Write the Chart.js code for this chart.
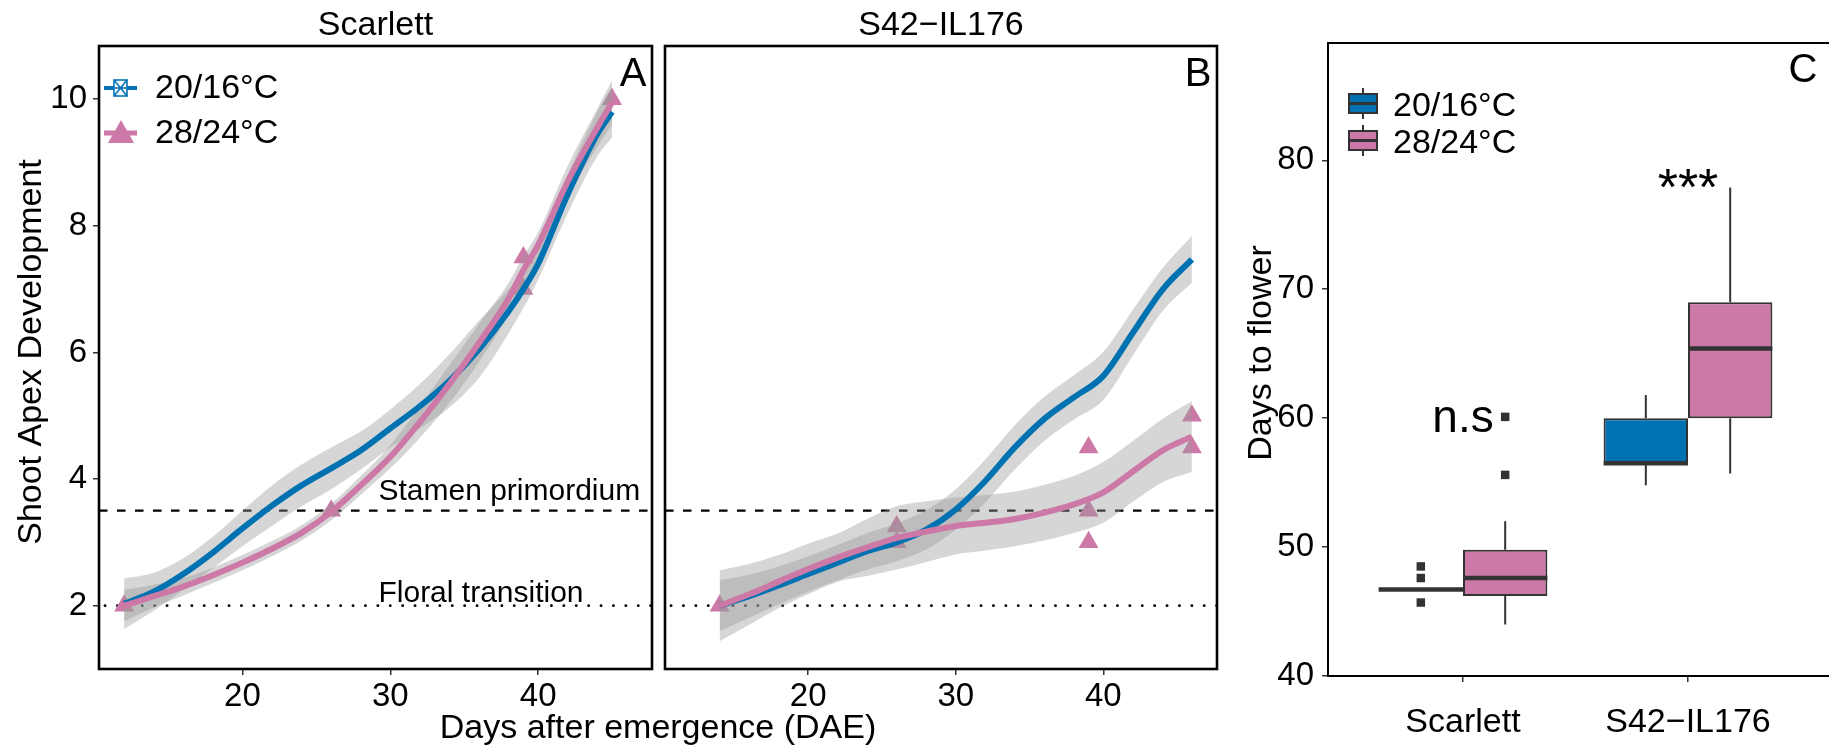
<!DOCTYPE html>
<html>
<head>
<meta charset="utf-8">
<script src="https://cdn.jsdelivr.net/npm/chart.js@4.4.1/dist/chart.umd.min.js"></script>
<style>
html,body{margin:0;padding:0;background:#fff;overflow:hidden;}
#wrap{position:relative;width:1829px;height:747px;background:#fff;}
canvas{position:absolute;left:0;top:0;}
</style>
</head>
<body>
<div id="wrap">
<canvas id="cA" width="1829" height="747"></canvas>
<canvas id="cB" width="1829" height="747"></canvas>
<canvas id="cC" width="1829" height="747"></canvas>
</div>
<script>
// ---------------- DATA ----------------
const groups = ['20/16°C', '28/24°C'];
const facetNames = ['Scarlett', 'S42−IL176'];
const dayTickVals = [20, 30, 40];
const devTickVals = [2, 4, 6, 8, 10];
const stageLines = [2, 3.5];
const stageLabels = ['Floral transition', 'Stamen primordium'];

// Panel A: Scarlett (smoothed fits with confidence ribbons)
const scarlettDays     = [12, 14, 16, 18, 20, 22, 24, 26, 28, 30, 32, 34, 36, 38, 39, 40, 42, 44, 45];
const scarlettCoolFit  = [2.03, 2.22, 2.50, 2.84, 3.22, 3.58, 3.90, 4.17, 4.45, 4.80, 5.15, 5.55, 6.05, 6.65, 7.00, 7.40, 8.50, 9.45, 9.80];
const scarlettCoolLo   = [1.63, 1.92, 2.25, 2.59, 2.94, 3.26, 3.57, 3.84, 4.15, 4.50, 4.80, 5.13, 5.60, 6.30, 6.70, 7.15, 8.20, 9.10, 9.40];
const scarlettCoolHi   = [2.43, 2.52, 2.75, 3.09, 3.50, 3.90, 4.23, 4.50, 4.75, 5.10, 5.50, 5.97, 6.50, 7.00, 7.30, 7.65, 8.80, 9.80, 10.20];
const scarlettWarmFit  = [2.00, 2.15, 2.30, 2.48, 2.68, 2.90, 3.15, 3.48, 3.90, 4.35, 4.90, 5.50, 6.15, 6.85, 7.30, 7.70, 8.70, 9.55, 9.95];
const scarlettWarmLo   = [1.75, 1.97, 2.16, 2.36, 2.56, 2.78, 3.03, 3.35, 3.75, 4.17, 4.65, 5.20, 5.85, 6.60, 7.08, 7.50, 8.45, 9.25, 9.60];
const scarlettWarmHi   = [2.25, 2.33, 2.44, 2.60, 2.80, 3.02, 3.27, 3.61, 4.05, 4.53, 5.15, 5.80, 6.45, 7.10, 7.52, 7.90, 8.95, 9.85, 10.30];
const scarlettWarmPtDays  = [12, 26, 39, 39, 45];
const scarlettWarmPtStage = [2, 3.5, 7.5, 7, 10];

// Panel B: S42-IL176
const ilDays     = [14, 16, 18, 20, 22, 24, 26, 28, 30, 32, 34, 36, 38, 40, 42, 44, 46];
const ilCoolFit  = [2.00, 2.15, 2.32, 2.50, 2.68, 2.86, 3.00, 3.20, 3.52, 3.97, 4.50, 4.95, 5.29, 5.63, 6.31, 6.99, 7.47];
const ilCoolLo   = [1.60, 1.81, 2.02, 2.22, 2.40, 2.57, 2.70, 2.89, 3.20, 3.63, 4.15, 4.60, 4.94, 5.25, 5.95, 6.65, 7.10];
const ilCoolHi   = [2.40, 2.49, 2.62, 2.78, 2.96, 3.15, 3.30, 3.51, 3.84, 4.31, 4.85, 5.30, 5.64, 6.01, 6.67, 7.33, 7.84];
const ilWarmFit  = [2.00, 2.18, 2.38, 2.58, 2.76, 2.92, 3.07, 3.17, 3.26, 3.31, 3.37, 3.47, 3.60, 3.79, 4.12, 4.45, 4.67];
const ilWarmLo   = [1.44, 1.70, 1.96, 2.18, 2.38, 2.47, 2.57, 2.69, 2.81, 2.87, 2.94, 3.03, 3.15, 3.31, 3.64, 3.95, 4.11];
const ilWarmHi   = [2.56, 2.66, 2.80, 2.98, 3.14, 3.37, 3.57, 3.65, 3.71, 3.75, 3.80, 3.91, 4.05, 4.27, 4.60, 4.95, 5.23];
const ilWarmPtDays  = [14, 26, 26, 39, 39, 39, 46, 46];
const ilWarmPtStage = [2, 3.25, 3, 4.5, 3.5, 3, 5, 4.5];

// Panel C: days to flower (box plot statistics)
const boxCategories = ['Scarlett', 'S42−IL176'];
const flowerTickVals = [40, 50, 60, 70, 80];
const coolLow    = [46.7, 54.8];
const coolQ1     = [46.7, 56.5];
const coolMedian = [46.7, 56.5];
const coolQ3     = [46.7, 60.0];
const coolHigh   = [46.7, 61.8];
const warmLow    = [44.0, 55.7];
const warmQ1     = [46.2, 60.0];
const warmMedian = [47.6, 65.4];
const warmQ3     = [49.8, 69.0];
const warmHigh   = [52.0, 77.9];
const coolOutliers = [[48.5, 47.6, 45.7], []];
const warmOutliers = [[55.6, 60.1], []];
const sigLabels = ['n.s', '***'];
const sigY = [60, 78];

// ---------------- STYLE ----------------
const COOL = '#0072B2', WARM = '#CC79A7', RIB = 'rgba(153,153,153,0.4)', DARK = '#333333';
const FONT = "'Liberation Sans', Arial, Helvetica, sans-serif";
Chart.defaults.font.family = FONT;
Chart.defaults.color = '#000';

function xy(xs, ys) { return xs.map((x, i) => ({ x: x, y: ys[i] })); }
function txt(ctx, s, x, y, o) {
  o = o || {};
  ctx.save();
  ctx.translate(x, y);
  if (o.rot) ctx.rotate(o.rot);
  ctx.font = (o.weight || 'normal') + ' ' + (o.size || 34) + 'px ' + FONT;
  ctx.fillStyle = o.color || '#000';
  ctx.textAlign = o.align || 'center';
  ctx.textBaseline = o.baseline || 'alphabetic';
  ctx.fillText(s, 0, 0);
  ctx.restore();
}

function devDatasets(days, cFit, cLo, cHi, wFit, wLo, wHi, pX, pY) {
  const line = { pointRadius: 0, cubicInterpolationMode: 'monotone', fill: false };
  const edge = Object.assign({}, line, { borderWidth: 0, borderColor: 'rgba(0,0,0,0)' });
  return [
    Object.assign({ label: groups[1] + ' fit', data: xy(days, wFit), borderColor: WARM, borderWidth: 6, order: 1 }, line),
    Object.assign({ label: groups[0] + ' fit', data: xy(days, cFit), borderColor: COOL, borderWidth: 6, order: 2 }, line),
    Object.assign({ label: 'cool hi', data: xy(days, cHi), order: 3 }, edge),
    Object.assign({ label: 'cool lo', data: xy(days, cLo), order: 3 }, edge, { fill: '-1', backgroundColor: RIB }),
    Object.assign({ label: 'warm hi', data: xy(days, wHi), order: 3 }, edge),
    Object.assign({ label: 'warm lo', data: xy(days, wLo), order: 3 }, edge, { fill: '-1', backgroundColor: RIB }),
    { label: groups[1], data: xy(pX, pY), showLine: false, pointStyle: 'triangle', pointRadius: 11.5,
      pointBackgroundColor: WARM, pointBorderWidth: 0, pointBorderColor: WARM, order: 5 }
  ];
}

function xDaysScale() {
  return {
    type: 'linear', min: 10.3, max: 47.7,
    afterBuildTicks: s => { s.ticks = dayTickVals.map(v => ({ value: v })); },
    afterFit: s => { s.height = 60; },
    grid: { drawOnChartArea: false, drawTicks: true, tickLength: 6, color: DARK, lineWidth: 1.5 },
    border: { display: false },
    ticks: { font: { size: 33 }, color: '#000', padding: 2, maxRotation: 0, autoSkip: false }
  };
}
function yDevScale(show) {
  return {
    type: 'linear', min: 1.0, max: 10.84, display: show,
    afterBuildTicks: s => { s.ticks = devTickVals.map(v => ({ value: v })); },
    afterFit: s => { s.width = show ? 60 : 0; },
    grid: { drawOnChartArea: false, drawTicks: true, tickLength: 6, color: DARK, lineWidth: 1.5 },
    border: { display: false },
    ticks: { font: { size: 33 }, color: '#000', padding: 6 }
  };
}

function devPlugin(idx, letter, extra) {
  return {
    id: 'dev' + idx,
    beforeDatasetsDraw(chart) {
      const ctx = chart.ctx, a = chart.chartArea, y = chart.scales.y;
      ctx.save();
      ctx.strokeStyle = '#000';
      // dotted: floral transition
      let py = y.getPixelForValue(stageLines[0]);
      ctx.setLineDash([0.1, 12.3]); ctx.lineCap = 'round'; ctx.lineWidth = 2.8;
      ctx.beginPath(); ctx.moveTo(a.left + 6, py); ctx.lineTo(a.right, py); ctx.stroke();
      // dashed: stamen primordium
      py = y.getPixelForValue(stageLines[1]);
      ctx.setLineDash([8.5, 9.5]); ctx.lineCap = 'butt'; ctx.lineWidth = 2.2;
      ctx.beginPath(); ctx.moveTo(a.left, py); ctx.lineTo(a.right, py); ctx.stroke();
      ctx.restore();
    },
    afterDraw(chart) {
      const ctx = chart.ctx, a = chart.chartArea;
      ctx.save();
      ctx.strokeStyle = '#000'; ctx.lineWidth = 2.6;
      ctx.strokeRect(a.left, a.top, a.right - a.left, a.bottom - a.top);
      ctx.restore();
      txt(ctx, facetNames[idx], (a.left + a.right) / 2, 35, { size: 34 });
      txt(ctx, letter, a.right - 19, a.top + 40, { size: 40 });
      if (extra) extra(chart);
    }
  };
}

// ---------------- PANEL A ----------------
new Chart(document.getElementById('cA'), {
  type: 'line',
  data: { datasets: devDatasets(scarlettDays, scarlettCoolFit, scarlettCoolLo, scarlettCoolHi,
                                scarlettWarmFit, scarlettWarmLo, scarlettWarmHi, scarlettWarmPtDays, scarlettWarmPtStage) },
  options: {
    responsive: false, animation: false, events: [], devicePixelRatio: 1,
    layout: { padding: { left: 39, top: 46, right: 1177, bottom: 18 } },
    plugins: { legend: { display: false }, tooltip: { enabled: false } },
    scales: { x: xDaysScale(), y: yDevScale(true) }
  },
  plugins: [devPlugin(0, 'A', function (chart) {
    const ctx = chart.ctx, x = chart.scales.x, y = chart.scales.y;
    // stage annotations
    txt(ctx, stageLabels[1], x.getPixelForValue(29.2), y.getPixelForValue(stageLines[1]) - 11, { size: 30, align: 'left' });
    txt(ctx, stageLabels[0], x.getPixelForValue(29.2), y.getPixelForValue(stageLines[0]) - 4, { size: 30, align: 'left' });
    // axis titles
    txt(ctx, 'Shoot Apex Development', 41, 352, { size: 34, rot: -Math.PI / 2 });
    txt(ctx, 'Days after emergence (DAE)', 658, 738, { size: 34 });
    // legend
    ctx.save();
    ctx.strokeStyle = COOL; ctx.lineWidth = 4;
    ctx.beginPath(); ctx.moveTo(104, 88); ctx.lineTo(137, 88); ctx.stroke();
    ctx.fillStyle = '#fff'; ctx.fillRect(114, 80, 13, 16);
    ctx.lineWidth = 1.6;
    ctx.strokeRect(114, 80, 13, 16);
    ctx.beginPath(); ctx.moveTo(114, 80); ctx.lineTo(127, 96); ctx.moveTo(127, 80); ctx.lineTo(114, 96);
    ctx.moveTo(104, 88); ctx.lineTo(137, 88); ctx.stroke();
    ctx.strokeStyle = WARM; ctx.lineWidth = 5;
    ctx.beginPath(); ctx.moveTo(104, 133); ctx.lineTo(137, 133); ctx.stroke();
    ctx.fillStyle = WARM;
    ctx.beginPath(); ctx.moveTo(121, 120); ctx.lineTo(134, 143); ctx.lineTo(108, 143); ctx.closePath(); ctx.fill();
    ctx.restore();
    txt(ctx, groups[0], 155, 98, { size: 34, align: 'left' });
    txt(ctx, groups[1], 155, 143, { size: 34, align: 'left' });
  })]
});

// ---------------- PANEL B ----------------
new Chart(document.getElementById('cB'), {
  type: 'line',
  data: { datasets: devDatasets(ilDays, ilCoolFit, ilCoolLo, ilCoolHi,
                                ilWarmFit, ilWarmLo, ilWarmHi, ilWarmPtDays, ilWarmPtStage) },
  options: {
    responsive: false, animation: false, events: [], devicePixelRatio: 1,
    layout: { padding: { left: 665, top: 46, right: 612, bottom: 18 } },
    plugins: { legend: { display: false }, tooltip: { enabled: false } },
    scales: { x: xDaysScale(), y: yDevScale(false) }
  },
  plugins: [devPlugin(1, 'B', null)]
});

// ---------------- PANEL C ----------------
const HALF = 0.75 / 4;
function cx(i, g) { return i + 1 + (g === 0 ? -HALF : HALF); }
function segs(vals, g) {
  const out = [];
  vals.forEach((v, i) => { out.push({ x: cx(i, g) - HALF, y: v }, { x: cx(i, g) + HALF, y: v }, { x: cx(i, g) + HALF, y: null }); });
  return out;
}
function whiskers(q1, q3, lo, hi, g) {
  const out = [];
  q1.forEach((v, i) => {
    const c = cx(i, g);
    out.push({ x: c, y: q3[i] }, { x: c, y: hi[i] }, { x: c, y: null }, { x: c, y: lo[i] }, { x: c, y: v }, { x: c, y: null });
  });
  return out;
}
function outl(arrs, g) {
  const out = [];
  arrs.forEach((arr, i) => arr.forEach(v => out.push({ x: cx(i, g), y: v })));
  return out;
}
const boxCommon = { borderColor: DARK, borderWidth: 2, borderSkipped: false, categoryPercentage: 0.75, barPercentage: 1, order: 3 };
const segCommon = { type: 'line', pointRadius: 0, borderColor: DARK, spanGaps: false, fill: false, tension: 0 };

new Chart(document.getElementById('cC'), {
  type: 'bar',
  data: {
    datasets: [
      Object.assign({ label: groups[0], data: boxCategories.map((c, i) => ({ x: i + 1, y: [coolQ1[i], coolQ3[i]] })), backgroundColor: COOL }, boxCommon),
      Object.assign({ label: groups[1], data: boxCategories.map((c, i) => ({ x: i + 1, y: [warmQ1[i], warmQ3[i]] })), backgroundColor: WARM }, boxCommon),
      Object.assign({ label: 'cool whiskers', data: whiskers(coolQ1, coolQ3, coolLow, coolHigh, 0), borderWidth: 2, order: 4 }, segCommon),
      Object.assign({ label: 'warm whiskers', data: whiskers(warmQ1, warmQ3, warmLow, warmHigh, 1), borderWidth: 2, order: 4 }, segCommon),
      Object.assign({ label: 'cool median', data: segs(coolMedian, 0), borderWidth: 4.5, order: 1 }, segCommon),
      Object.assign({ label: 'warm median', data: segs(warmMedian, 1), borderWidth: 4.5, order: 1 }, segCommon),
      { type: 'line', label: 'outliers', data: outl(coolOutliers, 0).concat(outl(warmOutliers, 1)), showLine: false,
        pointStyle: 'rect', pointRadius: 6, pointBackgroundColor: DARK, pointBorderWidth: 0, order: 0 }
    ]
  },
  options: {
    responsive: false, animation: false, events: [], devicePixelRatio: 1,
    layout: { padding: { left: 1258, top: 43, right: 0, bottom: 11 } },
    plugins: { legend: { display: false }, tooltip: { enabled: false } },
    scales: {
      x: {
        type: 'linear', min: 0.4, max: 2.6, offset: false,
        afterBuildTicks: s => { s.ticks = boxCategories.map((c, i) => ({ value: i + 1 })); },
        afterFit: s => { s.height = 60; },
        grid: { offset: false, drawOnChartArea: false, drawTicks: true, tickLength: 6, color: DARK, lineWidth: 1.5 },
        border: { display: false },
        ticks: { font: { size: 34 }, color: '#000', padding: 20, maxRotation: 0, autoSkip: false,
                 callback: v => boxCategories[Math.round(v) - 1] }
      },
      y: {
        type: 'linear', min: 40, max: 89.1,
        afterBuildTicks: s => { s.ticks = flowerTickVals.map(v => ({ value: v })); },
        afterFit: s => { s.width = 70; },
        grid: { drawOnChartArea: false, drawTicks: true, tickLength: 6, color: DARK, lineWidth: 1.5 },
        border: { display: false },
        ticks: { font: { size: 33 }, color: '#000', padding: 8 }
      }
    }
  },
  plugins: [{
    id: 'boxDecor',
    afterDraw(chart) {
      const ctx = chart.ctx, a = chart.chartArea, x = chart.scales.x, y = chart.scales.y;
      ctx.save();
      ctx.strokeStyle = '#000'; ctx.lineWidth = 2;
      ctx.strokeRect(a.left, a.top, a.right - a.left + 10, a.bottom - a.top);
      ctx.restore();
      txt(ctx, 'C', 1803, 82, { size: 40 });
      txt(ctx, 'Days to flower', 1271, 353, { size: 34, rot: -Math.PI / 2 });
      txt(ctx, sigLabels[0], x.getPixelForValue(1), y.getPixelForValue(sigY[0]) + 14, { size: 46 });
      txt(ctx, sigLabels[1], x.getPixelForValue(2), y.getPixelForValue(sigY[1]) + 19, { size: 52 });
      // legend
      const keys = [{ c: COOL, top: 94 }, { c: WARM, top: 131 }];
      ctx.save();
      keys.forEach((k, i) => {
        ctx.strokeStyle = DARK; ctx.lineWidth = 2;
        ctx.beginPath(); ctx.moveTo(1363, k.top - 6); ctx.lineTo(1363, k.top + 25); ctx.stroke();
        ctx.fillStyle = k.c; ctx.fillRect(1349, k.top, 28, 19);
        ctx.strokeRect(1349, k.top, 28, 19);
        ctx.lineWidth = 3;
        ctx.beginPath(); ctx.moveTo(1349, k.top + 9.5); ctx.lineTo(1377, k.top + 9.5); ctx.stroke();
      });
      ctx.restore();
      txt(ctx, groups[0], 1393, 116, { size: 34, align: 'left' });
      txt(ctx, groups[1], 1393, 153, { size: 34, align: 'left' });
    }
  }]
});
</script>
</body>
</html>
